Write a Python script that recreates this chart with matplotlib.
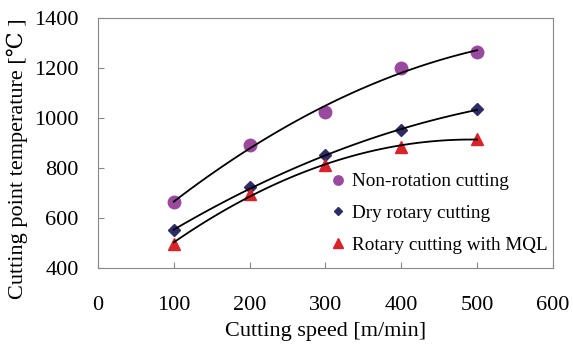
import matplotlib.pyplot as plt
import numpy as np

plt.rcParams['font.family'] = ['Liberation Serif', 'DejaVu Serif']

speed = [100, 200, 300, 400, 500]
non_rotation = [663, 890, 1025, 1200, 1265]
dry_rotary = [550, 722, 850, 950, 1035]
rotary_mql = [497, 697, 810, 885, 917]

series = [
    ("Non-rotation cutting", non_rotation, "o", "#9A4A9E", 9),
    ("Dry rotary cutting", dry_rotary, "D", "#2E2C66", 6),
    ("Rotary cutting with MQL", rotary_mql, "^", "#D9232A", 9),
]

fig = plt.figure(figsize=(5.73, 3.52), dpi=100)
ax = fig.add_axes([0.171, 0.239, 0.794, 0.71])

xs = np.linspace(100, 500, 100)
for label, vals, marker, color, ms in series:
    coef = np.polyfit(speed, vals, 2)
    ax.plot(xs, np.polyval(coef, xs), color="black", lw=1.3, zorder=3)
    ax.plot(speed, vals, linestyle="none", marker=marker, color=color,
            markersize=ms, label=label, zorder=2)

ax.set_xlim(0, 600)
ax.set_ylim(400, 1400)
ax.set_xticks(range(0, 601, 100))
ax.set_yticks(range(400, 1401, 200))
ax.tick_params(direction="in", length=4, color="#888888", labelsize=16)
ax.tick_params(axis="x", pad=20)
ax.tick_params(axis="y", pad=14)
for s in ax.spines.values():
    s.set_color("#888888")

ax.set_xlabel("Cutting speed [m/min]", fontsize=16, labelpad=5)
ax.set_ylabel("Cutting point temperature [\u2103 ]", fontsize=16)
ax.yaxis.set_label_coords(-0.154, 0.438)

leg = ax.legend(loc="lower right", frameon=False, fontsize=13.8,
                handletextpad=0.1, handlelength=1.2, labelspacing=0.74,
                markerscale=0.75, bbox_to_anchor=(1.026, -0.012))

fig.savefig("out.png", dpi=100)
